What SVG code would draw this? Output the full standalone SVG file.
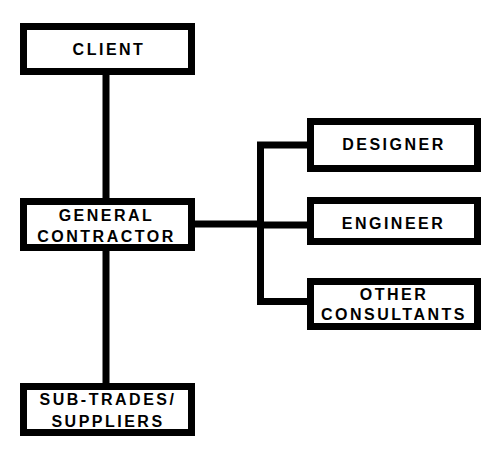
<svg xmlns="http://www.w3.org/2000/svg" width="504" height="459" viewBox="0 0 504 459">
<style>
.box{fill:#fff;stroke:#000;stroke-width:7}
.t{font-family:"Liberation Sans",Arial,sans-serif;font-weight:bold;font-size:16px;letter-spacing:2.5px;text-anchor:middle;fill:#000}
.c{fill:none;stroke:#000;stroke-width:7;stroke-linecap:butt;stroke-linejoin:miter}
</style>
<rect width="504" height="459" fill="#fff"/>
<g id="connectors">
<path class="c" d="M106,72 V390"/>
<path class="c" d="M191,224 H261"/>
<path class="c" d="M314,145 H260.5 V301.5 H314"/>
<path class="c" d="M260,225 H314"/>
</g>
<g id="client"><rect class="box" x="23.5" y="26.5" width="168" height="45"/><text class="t" x="109" y="55">CLIENT</text></g>
<g id="general-contractor"><rect class="box" x="23.5" y="201.5" width="168" height="46"/><text class="t" x="106.5" y="221">GENERAL</text><text class="t" x="106.5" y="241.5">CONTRACTOR</text></g>
<g id="sub-trades"><rect class="box" x="23.5" y="386.5" width="168" height="46"/><text class="t" x="108" y="405">SUB-TRADES/</text><text class="t" x="108" y="427">SUPPLIERS</text></g>
<g id="designer"><rect class="box" x="310.5" y="121.5" width="167" height="47"/><text class="t" x="394" y="150">DESIGNER</text></g>
<g id="engineer"><rect class="box" x="310.5" y="200.5" width="167" height="41"/><text class="t" x="393.5" y="229.3">ENGINEER</text></g>
<g id="other-consultants"><rect class="box" x="310.5" y="281.5" width="167" height="45"/><text class="t" x="394" y="300">OTHER</text><text class="t" x="394" y="320">CONSULTANTS</text></g>
</svg>
